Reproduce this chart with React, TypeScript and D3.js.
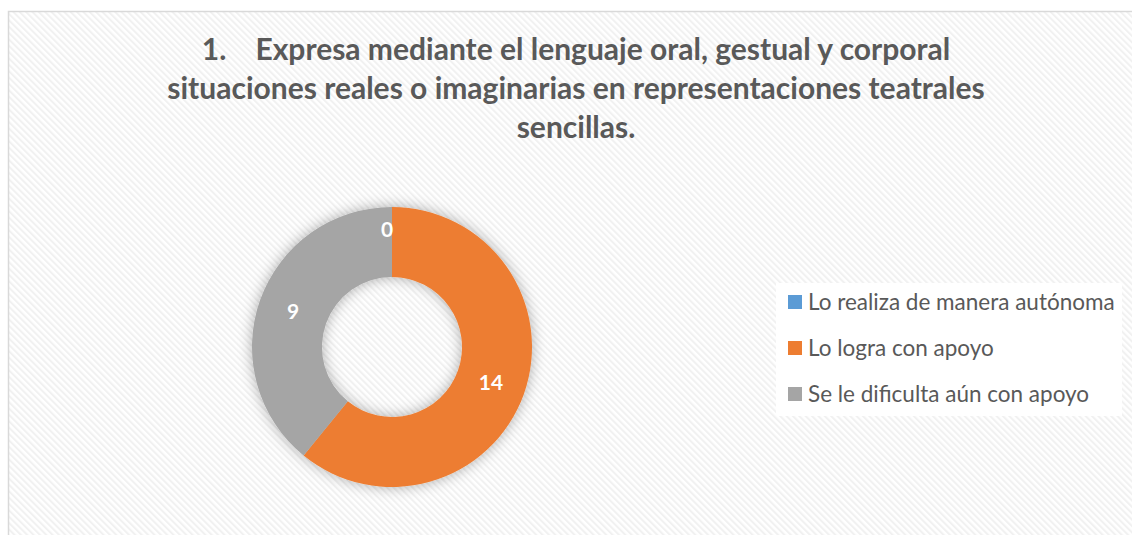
import React from "react";
import * as d3 from "d3";

// chart data
const categories = [
  "Lo realiza de manera autónoma",
  "Lo logra con apoyo",
  "Se le dificulta aún con apoyo",
];
const values = [0, 14, 9];
const colors = ["#5B9BD5", "#ED7D31", "#A5A5A5"];
const titleLines = [
  "1.    Expresa mediante el lenguaje oral, gestual y corporal",
  "situaciones reales o imaginarias en representaciones teatrales",
  "sencillas.",
];

const width = 1132;
const height = 535;
const cx = 392;
const cy = 347;
const outerR = 140;
const innerR = 70;
const font = "Lato, 'Open Sans', sans-serif";

const App = () => {
  const pie = d3
    .pie<number>()
    .sort(null)
    .value((d) => d)
    .startAngle(0)
    .endAngle(2 * Math.PI);
  const arcs = pie(values);

  const arc = d3
    .arc<d3.PieArcDatum<number>>()
    .innerRadius(innerR)
    .outerRadius(outerR);

  const labelArc = d3
    .arc<d3.PieArcDatum<number>>()
    .innerRadius((innerR + outerR) / 2)
    .outerRadius((innerR + outerR) / 2);

  // zero slices get their label pushed out a bit, like Excel does
  const zeroArc = d3
    .arc<d3.PieArcDatum<number>>()
    .innerRadius(117)
    .outerRadius(117);

  const legendX = 788;
  const legendY = [302, 348, 394];

  return (
    <svg
      width={width}
      height={height}
      style={{ position: "absolute", left: 0, top: 0 }}
    >
      <defs>
        <pattern
          id="hatch"
          width={4.5}
          height={4.5}
          patternUnits="userSpaceOnUse"
          patternTransform="rotate(-45)"
        >
          <rect width={4.5} height={4.5} fill="#ffffff" />
          <line x1={1} y1={0} x2={1} y2={4.5} stroke="#f1f1f1" strokeWidth={2} />
        </pattern>
        <filter id="glow" x="-30%" y="-30%" width="160%" height="160%">
          <feDropShadow dx={0} dy={0} stdDeviation={7} floodColor="#000" floodOpacity={0.32} />
        </filter>
      </defs>

      <rect x={0} y={0} width={width} height={height} fill="#ffffff" />
      <rect
        x={8.5}
        y={11.5}
        width={width + 20}
        height={height + 20}
        fill="url(#hatch)"
        stroke="#d9d9d9"
        strokeWidth={1.5}
      />

      {/* title */}
      <g fill="#595959" fontFamily={font} fontWeight="bold" fontSize={30} textAnchor="middle">
        {titleLines.map((t, i) => (
          <text key={i} x={576} y={60 + i * 39} style={{ whiteSpace: "pre" }}>
            {t}
          </text>
        ))}
      </g>

      {/* donut */}
      <g transform={`translate(${cx},${cy})`}>
        <g filter="url(#glow)">
          {arcs.map((a, i) => (
            <path key={i} d={arc(a) || ""} fill={colors[i]} />
          ))}
        </g>
        {arcs.map((a, i) => {
          const [lx, ly] = a.value === 0 ? zeroArc.centroid(a) : labelArc.centroid(a);
          return (
            <text
              key={i}
              x={a.value === 0 ? lx - 5 : lx}
              y={ly}
              dy="0.35em"
              textAnchor="middle"
              fill="#ffffff"
              fontFamily={font}
              fontWeight="bold"
              fontSize={21}
            >
              {a.value}
            </text>
          );
        })}
      </g>

      {/* legend */}
      <rect x={776} y={283} width={346} height={133} fill="#ffffff" />
      {categories.map((c, i) => (
        <g key={c} transform={`translate(${legendX},${legendY[i]})`}>
          <rect x={0} y={-7} width={14} height={14} fill={colors[i]} />
          <text
            x={20}
            y={0}
            dy="0.35em"
            fill="#595959"
            fontFamily={font}
            fontSize={22.5}
          >
            {c}
          </text>
        </g>
      ))}
    </svg>
  );
};

export default App;
